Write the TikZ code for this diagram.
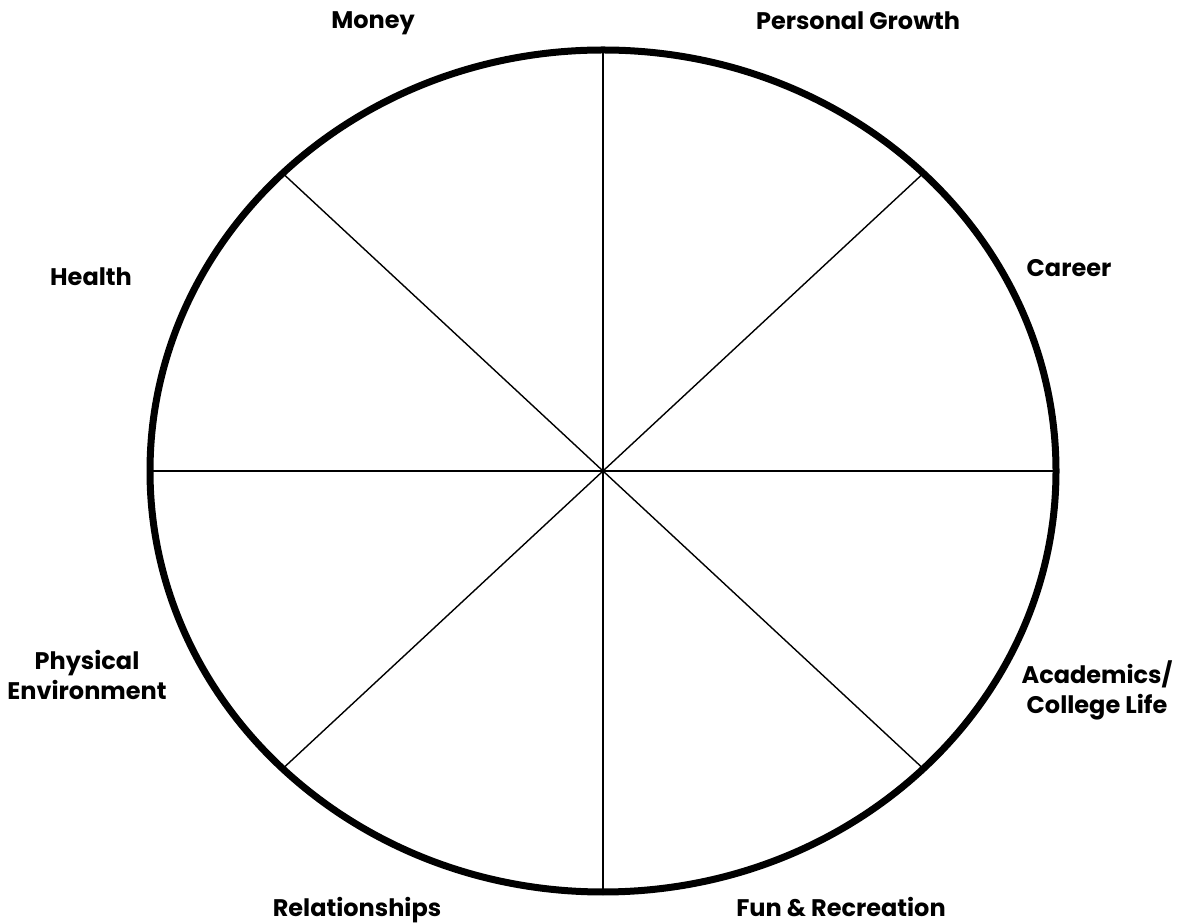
\documentclass[tikz,border=0pt]{standalone}
\usepackage{fontspec}
\setmainfont{Poppins}
\usepackage{tikz}
\usetikzlibrary{calc}

\begin{document}
\begin{tikzpicture}[x=1pt,y=1pt,rim/.style={line width=7pt},spoke/.style={line width=1.4pt},lab/.style={font=\fontsize{24}{30}\selectfont\bfseries,inner sep=0pt,align=center}]
\useasboundingbox (0,0) rectangle (1177,923);
\coordinate (c) at (603,452);
\draw[rim] (c) ellipse [x radius=453,y radius=421];
\foreach \a in {0,45,...,315}{\coordinate (p\a) at ($(c)+(\a:453 and 421)$);}
\foreach \a in {0,45,90,135}{\pgfmathtruncatemacro{\b}{\a+180}\draw[spoke] (p\a)--(p\b);}
\node[lab,anchor=base] (money) at (373,894) {Money};
\node[lab,anchor=base] (growth) at (858,893) {Personal Growth};
\node[lab,anchor=base] (health) at (91,637) {Health};
\node[lab,anchor=base] (career) at (1069,646) {Career};
\node[lab] (env) at (87,248) {Physical\\Environment};
\node[lab] (acad) at (1097,233) {Academics/\\College Life};
\node[lab,anchor=base] (rel) at (357,7) {Relationships};
\node[lab,anchor=base] (fun) at (841,7) {Fun \& Recreation};
\end{tikzpicture}
\end{document}
